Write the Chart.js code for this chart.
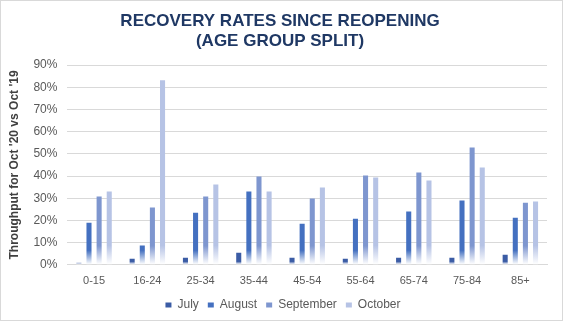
<!DOCTYPE html>
<html>
<head>
<meta charset="utf-8">
<script src="https://cdn.jsdelivr.net/npm/chart.js@4.4.1/dist/chart.umd.min.js"></script>
<style>
  html, body { margin: 0; padding: 0; background: #fff; }
  #wrap { width: 563px; height: 321px; position: relative; }
</style>
</head>
<body>
<div id="wrap"><canvas id="chart" width="563" height="321"></canvas></div>
<script>
// ------------------------------------------------------
// Datos
// ------------------------------------------------------
const ageGroups = ["0-15", "16-24", "25-34", "35-44", "45-54", "55-64", "65-74", "75-84", "85+"];
const july      = [0.9, 2.7, 3.2, 5.4, 3.2, 2.7, 3.2, 3.2, 4.5];
const august    = [19, 8.7, 23.5, 33, 18.5, 20.8, 24, 29, 21.2];
const september = [30.8, 25.8, 30.8, 39.8, 29.9, 40.3, 41.6, 52.9, 28];
const october   = [33, 83.2, 36.2, 33, 34.8, 39.4, 38, 43.9, 28.5];

const colors = ["#3B5CA5", "#4470C0", "#7E96CF", "#B6C3E5"];

// ------------------------------------------------------
// Plugins: degradado de barras, centrado y marco
// ------------------------------------------------------
const fadeBars = {
  id: "fadeBars",
  beforeDatasetsDraw(chart) {
    const ctx = chart.ctx;
    chart.data.datasets.forEach((ds, i) => {
      const meta = chart.getDatasetMeta(i);
      meta.data.forEach((el) => {
        const g = ctx.createLinearGradient(0, el.y, 0, el.base);
        g.addColorStop(0, ds.backgroundColor);
        g.addColorStop(0.7, ds.backgroundColor);
        g.addColorStop(1, "#ffffff");
        el.options.backgroundColor = g;
      });
    });
  }
};

// el titulo y la leyenda van centrados en todo el lienzo
const recenter = {
  id: "recenter",
  afterLayout(chart) {
    if (chart.legend) { chart.legend.left += 6; chart.legend.right += 6; }
    if (chart.titleBlock) { chart.titleBlock.left += 3; chart.titleBlock.right += 3; }
  }
};

const frame = {
  id: "frame",
  afterDraw(chart) {
    const ctx = chart.ctx;
    ctx.save();
    ctx.strokeStyle = "#d9d9d9";
    ctx.lineWidth = 1;
    ctx.strokeRect(0.5, 0.5, chart.width - 1, chart.height - 1);
    ctx.restore();
  }
};

const mkSet = (label, data, color) => ({
  label, data,
  backgroundColor: color,
  borderWidth: 0,
  categoryPercentage: 0.76,
  barPercentage: 0.5
});

new Chart(document.getElementById("chart"), {
  type: "bar",
  data: {
    labels: ageGroups,
    datasets: [
      mkSet("July", july, colors[0]),
      mkSet("August", august, colors[1]),
      mkSet("September", september, colors[2]),
      mkSet("October", october, colors[3])
    ]
  },
  options: {
    responsive: false,
    animation: false,
    layout: { padding: { left: 7, right: 16, top: 6, bottom: 0 } },
    plugins: {
      title: {
        display: true,
        text: ["RECOVERY RATES SINCE REOPENING", "(AGE GROUP SPLIT)"],
        color: "#1F3864",
        font: { family: "Liberation Sans", size: 17, weight: "bold", lineHeight: 1.15 },
        padding: { top: 6, bottom: 14 }
      },
      legend: {
        position: "bottom",
        labels: {
          color: "#595959",
          font: { family: "Liberation Sans", size: 12 },
          boxWidth: 6,
          boxHeight: 5,
          padding: 9
        }
      },
      tooltip: { enabled: false }
    },
    scales: {
      x: {
        grid: { display: false },
        border: { color: "#d9d9d9" },
        ticks: { padding: 2, color: "#595959", font: { family: "Liberation Sans", size: 11 }, maxRotation: 0 }
      },
      y: {
        min: 0, max: 90,
        ticks: {
          stepSize: 10,
          padding: 10,
          color: "#595959",
          font: { family: "Liberation Sans", size: 12 },
          callback: (v) => v + "%"
        },
        grid: { color: "#d9d9d9", drawTicks: false },
        border: { display: false },
        title: {
          display: true,
          text: "Throughput for Oct '20 vs Oct '19",
          color: "#404040",
          font: { family: "Liberation Sans", size: 12, weight: "bold" },
          padding: { top: 0, bottom: 2 }
        }
      }
    }
  },
  plugins: [fadeBars, recenter, frame]
});
</script>
</body>
</html>
